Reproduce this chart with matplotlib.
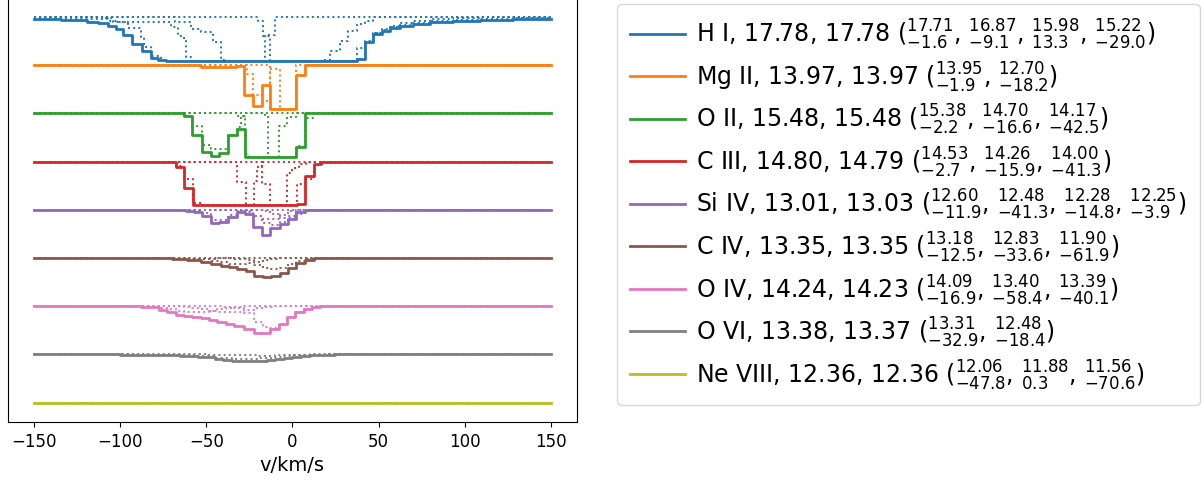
import matplotlib
matplotlib.use("Agg")
import matplotlib.pyplot as plt

# species, fitted log N, summed log N, and per-component (log N, v) pairs
NAMES = ["H I", "Mg II", "O II", "C III", "Si IV", "C IV", "O IV", "O VI", "Ne VIII"]
LOGN_FIT = [17.78, 13.97, 15.48, 14.80, 13.01, 13.35, 14.24, 13.38, 12.36]
LOGN_SUM = [17.78, 13.97, 15.48, 14.79, 13.03, 13.35, 14.23, 13.37, 12.36]
COMP_LOGN = [[17.71, 16.87, 15.98, 15.22], [13.95, 12.70], [15.38, 14.70, 14.17],
             [14.53, 14.26, 14.00], [12.60, 12.48, 12.28, 12.25],
             [13.18, 12.83, 11.90], [14.09, 13.40, 13.39], [13.31, 12.48],
             [12.06, 11.88, 11.56]]
COMP_V = [[-1.6, -9.1, 13.3, -29.0], [-1.9, -18.2], [-2.2, -16.6, -42.5],
          [-2.7, -15.9, -41.3], [-11.9, -41.3, -14.8, -3.9],
          [-12.5, -33.6, -61.9], [-16.9, -58.4, -40.1], [-32.9, -18.4],
          [-47.8, 0.3, -70.6]]

# binned flux profiles: (v_start, flux) pairs, flux holds until the next v
HI_TOT = [(-150, 0.954), (-134, 0.943), (-119, 0.89), (-113, 0.86), (-107, 0.80),
          (-102.5, 0.72), (-98, 0.586), (-93, 0.38), (-87, 0.225), (-82, 0.074),
          (-78, 0.01), (-73.5, 0.0), (37.6, 0.04), (42.3, 0.425), (47, 0.61),
          (52, 0.68), (56.8, 0.75), (62.5, 0.79), (70, 0.84), (80, 0.88),
          (93, 0.91), (109, 0.93), (128, 0.954)]
HI_COMPS = [
    [(-150, 0.96), (-125, 0.95), (-107, 0.915), (-101, 0.88), (-95.5, 0.76),
     (-88, 0.54), (-86, 0.31), (-82, 0.11), (-76.4, 0.03), (-73.5, 0.0),
     (37.6, 0.3), (42.3, 0.45), (47, 0.63), (52, 0.70), (56.8, 0.77),
     (62.5, 0.81), (70, 0.86), (80, 0.90), (93, 0.93), (109, 0.95), (128, 0.97)],
    [(-150, 1.0), (-110, 0.97), (-104, 0.89), (-70.6, 0.77), (-66.6, 0.56),
     (-63, 0.49), (-62, 0.08), (-59, 0.0), (37.6, 0.05), (42.3, 0.44),
     (47, 0.64), (52, 0.72), (56.8, 0.80), (62.5, 0.86), (70, 0.92),
     (80, 0.96), (93, 0.98), (109, 0.99), (128, 1.0)],
    [(-150, 1.0), (-20, 0.91), (-17, 0.57), (-12.7, 0.0), (17.4, 0.03),
     (22, 0.22), (27.8, 0.45), (32.4, 0.68), (37.6, 0.84), (42.3, 0.91), (47, 1.0)],
    [(-150, 1.0), (-68, 0.88), (-59, 0.72), (-53, 0.65), (-46, 0.43),
     (-41.7, 0.03), (-38, 0.0), (-16, 0.6), (-10, 1.0)],
]

MGII_TOT = [(-150, 1.0), (-53, 0.97), (-33, 0.98), (-28.2, 0.33), (-22.8, 0.06),
            (-17.6, 0.54), (-12.7, 0.0), (2.3, 0.78), (7.1, 1.0)]
MGII_COMPS = [
    [(-150, 1.0), (-12.7, 0.0), (2.3, 0.78), (7.6, 1.0)],
    [(-150, 1.0), (-26.6, 0.8), (-23, 0.33), (-17.6, 0.18), (-12.7, 0.92),
     (-7, 0.0), (2.3, 1.0)],
]

OII_TOT = [(-150, 1.0), (-63, 0.94), (-58, 0.50), (-52.7, 0.13), (-47.5, 0.03),
           (-42.7, 0.09), (-37.4, 0.50), (-32.4, 0.65), (-27.6, 0.0), (2.3, 0.23),
           (7.5, 1.0)]
OII_COMPS = [
    [(-150, 1.0), (-16, 0.95), (-14, 0.0), (2.3, 0.25), (7.5, 0.9), (12, 1.0)],
    [(-150, 1.0), (-32.4, 0.95), (-27.6, 0.08), (-25, 0.0), (-8, 0.72),
     (-3, 0.92), (2, 1.0)],
    [(-150, 1.0), (-63, 0.94), (-58, 0.72), (-52.7, 0.27), (-47.5, 0.2),
     (-42.7, 0.2), (-37.4, 0.5), (-32.4, 0.7), (-30, 0.95), (-27.6, 1.0)],
]

CIII_TOT = [(-150, 1.0), (-67.7, 0.87), (-63, 0.40), (-57.5, 0.0), (-30, 0.02),
            (2.7, 0.04), (7.1, 0.67), (12.4, 0.95), (16.5, 1.0)]
CIII_COMPS = [
    [(-150, 1.0), (-17.6, 0.5), (-12.7, 0.0), (2.7, 0.5), (7.1, 0.6),
     (12.4, 0.92), (16.5, 1.0)],
    [(-150, 1.0), (-32, 0.53), (-27, 0.0), (-3, 0.74), (0, 0.85), (4, 0.95),
     (8, 1.0)],
    [(-150, 1.0), (-67.7, 0.9), (-63, 0.6), (-57.5, 0.05), (-52, 0.0),
     (-22.5, 0.55), (-20.5, 0.87), (-17.6, 1.0)],
]

SIIV_TOT = [(-150, 1.0), (-62, 0.97), (-57, 0.94), (-52.7, 0.85), (-47.5, 0.70),
            (-42.7, 0.73), (-37.5, 0.83), (-32, 0.96), (-27.6, 0.90),
            (-22.8, 0.60), (-17.5, 0.43), (-12.7, 0.58), (-7.3, 0.68),
            (-2.5, 0.80), (2.3, 0.94), (7.5, 1.0)]
SIIV_COMPS = [
    [(-150, 1.0), (-30, 0.98), (-22.8, 0.85), (-17.5, 0.7), (-12.7, 0.65),
     (-7.3, 0.72), (-2.5, 0.85), (2.3, 0.96), (7.5, 1.0)],
    [(-150, 1.0), (-57, 0.97), (-52.7, 0.92), (-47.5, 0.78), (-42.7, 0.78),
     (-37.5, 0.88), (-32, 0.98), (-27, 1.0)],
    [(-150, 1.0), (-27.6, 0.95), (-22.8, 0.85), (-17.5, 0.8), (-12.7, 0.8),
     (-7.3, 0.88), (-2.5, 0.97), (2.3, 1.0)],
    [(-150, 1.0), (-17.5, 0.97), (-12.7, 0.9), (-7.3, 0.82), (-2.5, 0.82),
     (2.3, 0.9), (7.5, 0.98), (12, 1.0)],
]

CIV_TOT = [(-150, 1.0), (-70, 0.98), (-61, 0.96), (-53, 0.92), (-47.5, 0.87),
           (-41.7, 0.83), (-37, 0.79), (-32, 0.74), (-27.2, 0.70), (-22.4, 0.60),
           (-17, 0.57), (-12.2, 0.58), (-7.3, 0.67), (-2.5, 0.78), (2.3, 0.89),
           (7.5, 0.96), (12.4, 1.0)]
CIV_COMPS = [
    [(-150, 1.0), (-35, 0.99), (-27.2, 0.95), (-22.4, 0.85), (-17, 0.77),
     (-12.2, 0.74), (-7.3, 0.78), (-2.5, 0.86), (2.3, 0.93), (7.5, 0.98),
     (12.4, 1.0)],
    [(-150, 1.0), (-60, 0.99), (-53, 0.97), (-47.5, 0.93), (-41.7, 0.9),
     (-37, 0.87), (-32, 0.87), (-27.2, 0.88), (-22.4, 0.92), (-17, 0.96),
     (-12.2, 0.99), (-7, 1.0)],
    [(-150, 1.0), (-80, 0.995), (-70, 0.985), (-61, 0.98), (-53, 0.985),
     (-45, 0.995), (-38, 1.0)],
]

OIV_TOT = [(-150, 1.0), (-88, 0.99), (-83, 0.98), (-77.4, 0.92), (-72.6, 0.86),
           (-67.8, 0.81), (-63, 0.77), (-58, 0.75), (-53.3, 0.73), (-48.5, 0.69),
           (-43.6, 0.64), (-38.8, 0.60), (-34, 0.56), (-28, 0.48), (-22.4, 0.40),
           (-12.7, 0.48), (-7.9, 0.60), (-3, 0.75), (1.7, 0.86), (6.5, 0.94),
           (11.4, 0.98), (16.2, 1.0)]
OIV_COMPS = [
    [(-150, 1.0), (-40, 0.99), (-34, 0.95), (-28, 0.85), (-22.4, 0.65),
     (-17, 0.52), (-12.7, 0.5), (-7.9, 0.6), (-3, 0.75), (1.7, 0.86),
     (6.5, 0.94), (11.4, 0.98), (16, 1.0)],
    [(-150, 1.0), (-83, 0.99), (-77, 0.97), (-72, 0.94), (-67.8, 0.9),
     (-63, 0.88), (-58, 0.87), (-53.3, 0.88), (-48.5, 0.9), (-43.6, 0.93),
     (-38.8, 0.96), (-34, 0.98), (-28, 1.0)],
    [(-150, 1.0), (-63, 0.99), (-58, 0.97), (-53.3, 0.94), (-48.5, 0.9),
     (-43.6, 0.88), (-38.8, 0.87), (-34, 0.88), (-28, 0.91), (-22.4, 0.95),
     (-17, 0.98), (-12, 1.0)],
]

OVI_TOT = [(-150, 1.0), (-100, 0.998), (-85, 0.995), (-75, 0.985), (-65, 0.97),
           (-55, 0.94), (-45, 0.90), (-40, 0.88), (-35, 0.86), (-30, 0.85),
           (-25, 0.85), (-20, 0.86), (-15, 0.88), (-10, 0.90), (-5, 0.93),
           (0, 0.95), (5, 0.97), (10, 0.985), (15, 0.995), (25, 1.0)]
OVI_COMPS = [
    [(-150, 1.0), (-90, 0.998), (-75, 0.99), (-65, 0.98), (-55, 0.96),
     (-45, 0.93), (-40, 0.91), (-35, 0.9), (-30, 0.89), (-25, 0.9),
     (-20, 0.91), (-15, 0.93), (-10, 0.95), (-5, 0.97), (0, 0.98),
     (10, 0.995), (20, 1.0)],
    [(-150, 1.0), (-50, 0.998), (-40, 0.99), (-30, 0.98), (-20, 0.975),
     (-10, 0.98), (0, 0.99), (10, 1.0)],
]

NEVIII_TOT = [(-150, 1.0)]
NEVIII_COMPS = [[(-150, 1.0)], [(-150, 1.0)], [(-150, 1.0)]]

PROFILES = [(HI_TOT, HI_COMPS), (MGII_TOT, MGII_COMPS), (OII_TOT, OII_COMPS),
            (CIII_TOT, CIII_COMPS), (SIIV_TOT, SIIV_COMPS), (CIV_TOT, CIV_COMPS),
            (OIV_TOT, OIV_COMPS), (OVI_TOT, OVI_COMPS),
            (NEVIII_TOT, NEVIII_COMPS)]

V_MAX = 150
SPACING = 1.1


def steps(pairs):
    v = [p[0] for p in pairs] + [V_MAX]
    f = [p[1] for p in pairs] + [pairs[-1][1]]
    return v, f


def label(i):
    # log N over v for every component, stacked as super/subscripts
    fr = ", ".join(r"$^{%.2f}_{%.1f}$" % (n, v)
                   for n, v in zip(COMP_LOGN[i], COMP_V[i]))
    return f"{NAMES[i]}, {LOGN_FIT[i]:.2f}, {LOGN_SUM[i]:.2f} ({fr})"


fig = plt.figure(figsize=(12.04, 4.81), dpi=100)
ax = fig.add_axes([0.0066, 0.1206, 0.4725, 0.882])

for i, (tot, comps) in enumerate(PROFILES):
    col = f"C{i}"
    off = -SPACING * i
    v, f = steps(tot)
    ax.plot(v, [x + off for x in f], drawstyle="steps-post", color=col,
            lw=2.0, label=label(i))
    for c in comps:
        v, f = steps(c)
        ax.plot(v, [x + off for x in f], drawstyle="steps-post", color=col,
                lw=1.4, ls=":")

ax.set_yticks([])
ax.set_xticks([-150, -100, -50, 0, 50, 100, 150])
ax.tick_params(axis="x", labelsize=12)
ax.set_xlabel("v/km/s", fontsize=14)

ax.legend(loc="upper left", bbox_to_anchor=(617 / 1204, 1 - 5 / 481),
          bbox_transform=fig.transFigure, borderaxespad=0, borderpad=0.55,
          fontsize=17, handlelength=2.33, handletextpad=0.48,
          labelspacing=0.354)

fig.savefig("out.png", dpi=100)
